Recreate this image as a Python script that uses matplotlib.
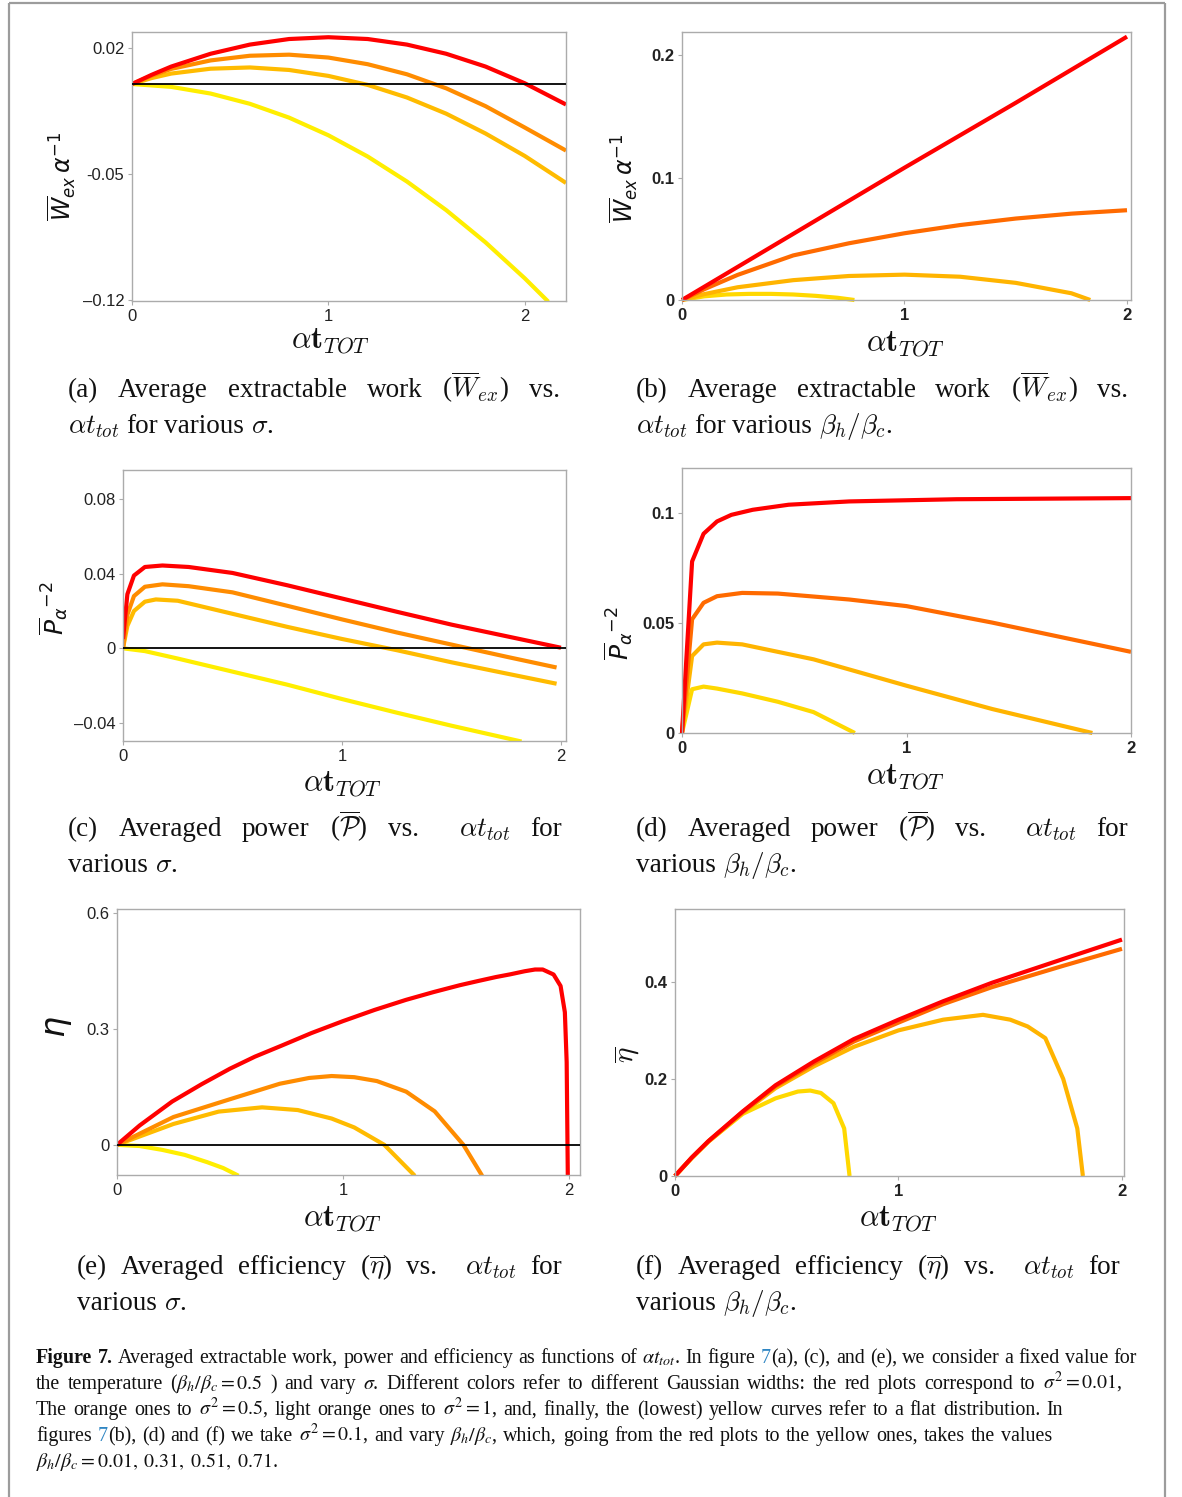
import matplotlib
matplotlib.use('Agg')
import matplotlib.pyplot as plt

W, H = 1182, 1497

# ---------------- data ----------------
# (a) extractable work vs alpha t, various sigma
a_x_red = [0, 0.1, 0.2, 0.4, 0.6, 0.8, 1.0, 1.2, 1.4, 1.6, 1.8, 2.0, 2.21]
a_y_red = [0, 0.0051, 0.0097, 0.0168, 0.0219, 0.0250, 0.0260, 0.0250, 0.0219, 0.0168, 0.0097, 0.0004, -0.0114]
a_x_org = [0, 0.1, 0.2, 0.4, 0.6, 0.8, 1.0, 1.2, 1.4, 1.6, 1.8, 2.0, 2.21]
a_y_org = [0, 0.0046, 0.0084, 0.0131, 0.0157, 0.0163, 0.0147, 0.0110, 0.0054, -0.0024, -0.0123, -0.0242, -0.0370]
a_x_lor = [0, 0.1, 0.2, 0.4, 0.6, 0.8, 1.0, 1.2, 1.4, 1.6, 1.8, 2.0, 2.21]
a_y_lor = [0, 0.0033, 0.0058, 0.0085, 0.0092, 0.0078, 0.0045, -0.0005, -0.0075, -0.0165, -0.0275, -0.0400, -0.0550]
a_x_yel = [0, 0.2, 0.4, 0.6, 0.8, 1.0, 1.2, 1.4, 1.6, 1.8, 2.0, 2.12]
a_y_yel = [0, -0.0016, -0.0053, -0.0110, -0.0187, -0.0285, -0.0403, -0.0542, -0.0701, -0.0880, -0.1080, -0.1210]

# (b) extractable work, various beta_h/beta_c
b_x_red = [0, 0.5, 1.0, 1.5, 2.0]
b_y_red = [0, 0.054, 0.108, 0.161, 0.215]
b_x_org = [0, 0.1, 0.25, 0.5, 0.75, 1.0, 1.25, 1.5, 1.75, 2.0]
b_y_org = [0, 0.0088, 0.0205, 0.0364, 0.0463, 0.0545, 0.0612, 0.0665, 0.0705, 0.0733]
b_x_lor = [0, 0.1, 0.25, 0.5, 0.75, 1.0, 1.25, 1.5, 1.75, 1.835]
b_y_lor = [0, 0.0048, 0.0104, 0.0162, 0.0196, 0.0207, 0.0190, 0.0140, 0.0055, 0]
b_x_yel = [0, 0.1, 0.2, 0.3, 0.4, 0.5, 0.6, 0.7, 0.775]
b_y_yel = [0, 0.0030, 0.0045, 0.0050, 0.0050, 0.0045, 0.0034, 0.0018, 0]

# (c) power, various sigma
c_x_red = [0, 0.02, 0.05, 0.1, 0.18, 0.3, 0.5, 0.75, 1.0, 1.25, 1.5, 1.75, 2.0]
c_y_red = [0.005, 0.029, 0.039, 0.0436, 0.0444, 0.0436, 0.0404, 0.0338, 0.0267, 0.0196, 0.0127, 0.0065, 0.0003]
c_x_org = [0, 0.02, 0.05, 0.1, 0.18, 0.3, 0.5, 0.75, 1.0, 1.25, 1.5, 1.75, 1.98]
c_y_org = [0, 0.018, 0.028, 0.033, 0.0343, 0.0333, 0.0300, 0.0228, 0.0155, 0.0085, 0.0020, -0.0045, -0.0103]
c_x_lor = [0, 0.02, 0.05, 0.1, 0.15, 0.25, 0.5, 0.75, 1.0, 1.25, 1.5, 1.75, 1.98]
c_y_lor = [0, 0.012, 0.020, 0.025, 0.0262, 0.0255, 0.0185, 0.0115, 0.0050, -0.0010, -0.0075, -0.0135, -0.0190]
c_x_yel = [0, 0.1, 0.25, 0.5, 0.75, 1.0, 1.25, 1.5, 1.82]
c_y_yel = [0, -0.0015, -0.0055, -0.0125, -0.0195, -0.0272, -0.0345, -0.0415, -0.0500]

# (d) power, various beta_h/beta_c
d_x_red = [0, 0.045, 0.096, 0.156, 0.22, 0.315, 0.475, 0.745, 1.223, 2.0]
d_y_red = [0, 0.078, 0.0906, 0.0962, 0.0992, 0.1015, 0.1038, 0.1053, 0.1063, 0.1068]
d_x_org = [0, 0.045, 0.096, 0.156, 0.268, 0.427, 0.745, 1.0, 1.382, 2.0]
d_y_org = [0, 0.0517, 0.0592, 0.0622, 0.0637, 0.0634, 0.0607, 0.0577, 0.0502, 0.0369]
d_x_lor = [0, 0.045, 0.096, 0.156, 0.268, 0.586, 1.0, 1.382, 1.828]
d_y_lor = [0, 0.035, 0.0403, 0.0411, 0.0403, 0.0335, 0.0215, 0.0109, 0]
d_x_yel = [0, 0.045, 0.096, 0.156, 0.268, 0.427, 0.586, 0.77]
d_y_yel = [0, 0.0199, 0.0211, 0.0202, 0.0180, 0.0142, 0.0095, 0]

# (e) efficiency, various sigma
e_x_red = [0, 0.1, 0.244, 0.375, 0.5, 0.61, 0.726, 0.86, 1.0, 1.14, 1.279, 1.4, 1.518, 1.6, 1.677,
           1.74, 1.804, 1.85, 1.884, 1.932, 1.963, 1.982, 1.990, 1.995]
e_y_red = [0, 0.050, 0.112, 0.157, 0.197, 0.228, 0.256, 0.289, 0.320, 0.349, 0.375, 0.395, 0.413, 0.424, 0.434,
           0.441, 0.449, 0.4535, 0.4535, 0.4406, 0.411, 0.343, 0.214, -0.08]
e_x_org = [0, 0.25, 0.5, 0.72, 0.85, 0.95, 1.05, 1.15, 1.28, 1.406, 1.533, 1.616]
e_y_org = [0, 0.072, 0.118, 0.158, 0.173, 0.178, 0.175, 0.165, 0.1375, 0.0866, 0, -0.08]
e_x_lor = [0, 0.25, 0.45, 0.642, 0.8, 0.95, 1.05, 1.183, 1.318]
e_y_lor = [0, 0.054, 0.086, 0.097, 0.090, 0.068, 0.045, 0, -0.08]
e_x_yel = [0, 0.1, 0.2, 0.3, 0.4, 0.47, 0.538]
e_y_yel = [0, -0.003, -0.013, -0.026, -0.045, -0.060, -0.080]

# (f) efficiency, various beta_h/beta_c
f_x_red = [0, 0.075, 0.15, 0.303, 0.45, 0.622, 0.8, 1.0, 1.2, 1.418, 1.737, 2.0]
f_y_red = [0, 0.038, 0.072, 0.133, 0.187, 0.236, 0.282, 0.322, 0.360, 0.398, 0.447, 0.487]
f_x_org = [0, 0.075, 0.15, 0.303, 0.45, 0.622, 0.8, 1.0, 1.2, 1.418, 1.737, 2.0]
f_y_org = [0, 0.038, 0.072, 0.132, 0.185, 0.232, 0.277, 0.316, 0.354, 0.389, 0.433, 0.468]
f_x_lor = [0, 0.075, 0.15, 0.303, 0.45, 0.622, 0.8, 1.0, 1.2, 1.378, 1.5, 1.578, 1.657, 1.737, 1.8, 1.825]
f_y_lor = [0, 0.037, 0.071, 0.130, 0.181, 0.226, 0.266, 0.300, 0.322, 0.332, 0.322, 0.308, 0.284, 0.200, 0.098, 0]
f_x_yel = [0, 0.075, 0.15, 0.303, 0.45, 0.55, 0.605, 0.653, 0.709, 0.757, 0.781]
f_y_yel = [0, 0.037, 0.071, 0.128, 0.160, 0.174, 0.176, 0.171, 0.150, 0.098, 0]

x_ticks = [0, 1, 2]
x_ticklabels = ['0', '1', '2']
a_yticks, a_yticklabels = [0.02, -0.05, -0.12], ['0.02', '-0.05', '\u20130.12']
b_yticks, b_yticklabels = [0, 0.1, 0.2], ['0', '0.1', '0.2']
c_yticks, c_yticklabels = [0.08, 0.04, 0, -0.04], ['0.08', '0.04', '0', '\u20130.04']
d_yticks, d_yticklabels = [0, 0.05, 0.1], ['0', '0.05', '0.1']
e_yticks, e_yticklabels = [0, 0.3, 0.6], ['0', '0.3', '0.6']
f_yticks, f_yticklabels = [0, 0.2, 0.4], ['0', '0.2', '0.4']

sigma_colors = ['#ff0000', '#ff8c00', '#ffbb00', '#ffee00']
beta_colors = ['#ff0000', '#ff6a00', '#ffb400', '#ffd800']

# ---------------- figure ----------------
fig = plt.figure(figsize=(W / 100, H / 100), dpi=100)
fig.patch.set_facecolor('white')


def panel(l, t, r, b, xlim, ylim, yticks, yticklabels, bold):
    ax = fig.add_axes([l / W, 1 - b / H, (r - l) / W, (b - t) / H])
    ax.set_xlim(*xlim)
    ax.set_ylim(*ylim)
    for s in ax.spines.values():
        s.set_color('#ababab')
        s.set_linewidth(1.0)
    ax.set_xticks(x_ticks)
    ax.set_xticklabels(x_ticklabels)
    ax.set_yticks(yticks)
    ax.set_yticklabels(yticklabels)
    ax.tick_params(direction='out', length=3, width=0.8, color='#ababab',
                   labelsize=12, pad=2.5, labelcolor='#222222')
    for lab in ax.get_xticklabels() + ax.get_yticklabels():
        lab.set_fontweight('bold' if bold else 'normal')
        lab.set_family('Liberation Sans')
    return ax


def curves(ax, series, colors, clip=True, lw=3.0):
    for (x, y), c in reversed(list(zip(series, colors))):
        ax.plot(x, y, color=c, lw=lw, solid_capstyle='butt', solid_joinstyle='round',
                clip_on=clip, zorder=2)


axa = panel(132, 32, 566, 301, (0, 2.21), (-0.1206, 0.0289), a_yticks, a_yticklabels, False)
axa.axhline(0, color='black', lw=1.3, zorder=3)
curves(axa, [(a_x_red, a_y_red), (a_x_org, a_y_org), (a_x_lor, a_y_lor), (a_x_yel, a_y_yel)], sigma_colors)

axb = panel(682, 32, 1131, 300, (0, 2.018), (0, 0.2188), b_yticks, b_yticklabels, True)
curves(axb, [(b_x_red, b_y_red), (b_x_org, b_y_org), (b_x_lor, b_y_lor), (b_x_yel, b_y_yel)], beta_colors, clip=False)

axc = panel(123, 470, 566, 741, (0, 2.023), (-0.0497, 0.0956), c_yticks, c_yticklabels, False)
axc.axhline(0, color='black', lw=1.3, zorder=3)
curves(axc, [(c_x_red, c_y_red), (c_x_org, c_y_org), (c_x_lor, c_y_lor), (c_x_yel, c_y_yel)], sigma_colors)

axd = panel(682, 468, 1131, 733, (0, 2.0), (0, 0.1205), d_yticks, d_yticklabels, True)
curves(axd, [(d_x_red, d_y_red), (d_x_org, d_y_org), (d_x_lor, d_y_lor), (d_x_yel, d_y_yel)], beta_colors, clip=False)

axe = panel(117, 909, 580, 1175, (0, 2.049), (-0.078, 0.610), e_yticks, e_yticklabels, False)
axe.axhline(0, color='black', lw=1.3, zorder=3)
curves(axe, [(e_x_red, e_y_red), (e_x_org, e_y_org), (e_x_lor, e_y_lor), (e_x_yel, e_y_yel)], sigma_colors)

axf = panel(675, 909, 1124, 1176, (0, 2.009), (0, 0.550), f_yticks, f_yticklabels, True)
curves(axf, [(f_x_red, f_y_red), (f_x_org, f_y_org), (f_x_lor, f_y_lor), (f_x_yel, f_y_yel)], beta_colors, clip=False)

# ---------------- overlay (pixel coordinates) ----------------
ov = fig.add_axes([0, 0, 1, 1], zorder=10)
ov.set_xlim(0, W)
ov.set_ylim(H, 0)
ov.axis('off')

# frame
frame_kw = dict(color='#9c9c9c', lw=1.6, clip_on=False, solid_capstyle='butt')
ov.plot([9, 9], [H + 5, 3], **frame_kw)
ov.plot([9, 1165], [3, 3], **frame_kw)
ov.plot([1165, 1165], [3, H + 5], **frame_kw)

# axis labels
xlab = r'$\alpha\mathbf{t}_{TOT}$'
for (x, y) in [(330, 341), (905, 344), (342, 784), (905, 777), (342, 1219), (898, 1219)]:
    ov.text(x, y, xlab, fontsize=22, ha='center', va='center', math_fontfamily='cm', color='#111111')

ylab_kw = dict(rotation=90, ha='center', va='center', math_fontfamily='dejavusans', color='#111111')
ov.text(62, 176, r'$\overline{W}_{ex}\,\alpha^{-1}$', fontsize=17, **ylab_kw)
ov.text(624, 178, r'$\overline{W}_{ex}\,\alpha^{-1}$', fontsize=17, **ylab_kw)
ov.text(54, 608, r'$\overline{P}_{\alpha}{}^{-2}$', fontsize=18, **ylab_kw)
ov.text(619, 633, r'$\overline{P}_{\alpha}{}^{-2}$', fontsize=18, **ylab_kw)
ov.text(58, 1027, r'$\eta$', fontsize=24, **ylab_kw)
ov.text(627, 1055, r'$\overline{\eta}$', fontsize=21, rotation=90, ha='center', va='center',
        math_fontfamily='cm', color='#111111')

renderer = fig.canvas.get_renderer()


def measure(t):
    return t.get_window_extent(renderer=renderer).width


def space_width(fs, family):
    t1 = ov.text(0, 0, 'n n', fontsize=fs, family=family)
    t2 = ov.text(0, 0, 'nn', fontsize=fs, family=family)
    w = measure(t1) - measure(t2)
    t1.remove()
    t2.remove()
    return w


def make_texts(tokens, fs, family, mff):
    out = []
    for tok in tokens:
        if tok is None:
            out.append([])
            continue
        if isinstance(tok, str):
            tok = [(tok, {})]
        segs = []
        for s, kw in tok:
            t = ov.text(0, 0, s, fontsize=fs, family=family, math_fontfamily=mff,
                        va='baseline', ha='left', color='#111111')
            t.update(kw)
            segs.append((t, measure(t)))
        out.append(segs)
    return out


def natural_width(tokens, fs, family, mff):
    texts = make_texts(tokens, fs, family, mff)
    w = sum(sw for segs in texts for _, sw in segs)
    for segs in texts:
        for t, _ in segs:
            t.remove()
    return w + (len(tokens) - 1) * space_width(fs, family)


def place(tokens, x0, y, fs, family, mff, x1=None):
    texts = make_texts(tokens, fs, family, mff)
    widths = [sum(sw for _, sw in segs) for segs in texts]
    n = len(texts) - 1
    if x1 is None or n == 0:
        gap = space_width(fs, family)
    else:
        gap = (x1 - x0 - sum(widths)) / n
    x = x0
    for segs, w in zip(texts, widths):
        xx = x
        for t, sw in segs:
            t.set_position((xx, y))
            xx += sw
        x += w + gap


# ---------------- sub-captions ----------------
SERIF = 'Liberation Serif'
sfs = 19.5
sub_caps = [
    (['(a)', 'Average', 'extractable', 'work', r'($\overline{W}_{ex}$)', 'vs.'], 68, 560,
     [r'$\alpha t_{tot}$', 'for', 'various', r'$\sigma$.'], 397),
    (['(b)', 'Average', 'extractable', 'work', r'($\overline{W}_{ex}$)', 'vs.'], 636, 1128,
     [r'$\alpha t_{tot}$', 'for', 'various', r'$\beta_h/\beta_c$.'], 397),
    (['(c)', 'Averaged', 'power', r'($\overline{\mathcal{P}}$)', 'vs.', None, r'$\alpha t_{tot}$', 'for'], 68, 562,
     ['various', r'$\sigma$.'], 836),
    (['(d)', 'Averaged', 'power', r'($\overline{\mathcal{P}}$)', 'vs.', None, r'$\alpha t_{tot}$', 'for'], 636, 1128,
     ['various', r'$\beta_h/\beta_c$.'], 836),
    (['(e)', 'Averaged', 'efficiency', r'($\overline{\eta}$)', 'vs.', None, r'$\alpha t_{tot}$', 'for'], 77, 562,
     ['various', r'$\sigma$.'], 1274),
    (['(f)', 'Averaged', 'efficiency', r'($\overline{\eta}$)', 'vs.', None, r'$\alpha t_{tot}$', 'for'], 636, 1120,
     ['various', r'$\beta_h/\beta_c$.'], 1274),
]
for l1, x0, x1, l2, yb in sub_caps:
    place(l1, x0, yb, sfs, SERIF, 'cm', x1)
    place(l2, x0, yb + 36, sfs, SERIF, 'cm')

# ---------------- figure caption ----------------
BLUE = '#2f86c3'
bold = {'fontweight': 'bold'}
blue = {'color': BLUE}


def words(s):
    return s.split(' ')


cap_lines = [
    ([[('Figure', bold)], [('7.', bold)]] +
     words(r'Averaged extractable work, power and efficiency as functions of $\alpha{}t_{tot}$. In figure') +
     [[('7', blue), ('(a),', {})]] + words('(c), and (e), we consider a fixed value for'), 1137),
    (words(r'the temperature ($\beta_h/\beta_c=0.5$ ) and vary $\sigma$. Different colors refer to different '
           r'Gaussian widths: the red plots correspond to $\sigma^2=0.01$,'), 1122),
    (words(r'The orange ones to $\sigma^2=0.5$, light orange ones to $\sigma^2=1$, and, finally, the (lowest) '
           r'yellow curves refer to a flat distribution. In'), 1063),
    (['figures', [('7', blue), ('(b),', {})]] +
     words(r'(d) and (f) we take $\sigma^2=0.1$, and vary $\beta_h/\beta_c$, which, going from the red plots '
           r'to the yellow ones, takes the values'), 1052),
    (words(r'$\beta_h/\beta_c=0.01,\;0.31,\;0.51,\;0.71$.'), None),
]

cfs = 14.5
ratio = 1.0
for toks, xe in cap_lines:
    if xe is not None:
        nw = natural_width(toks, cfs, SERIF, 'stix')
        ratio = min(ratio, (xe - 36) / nw)
cfs = cfs * min(1.0, ratio * 0.995)

cap_y = [1363, 1389, 1415, 1441, 1467]
for (toks, xe), yb in zip(cap_lines, cap_y):
    place(toks, 36, yb, cfs, SERIF, 'stix', xe)

fig.savefig('out.png', dpi=100, facecolor='white')
